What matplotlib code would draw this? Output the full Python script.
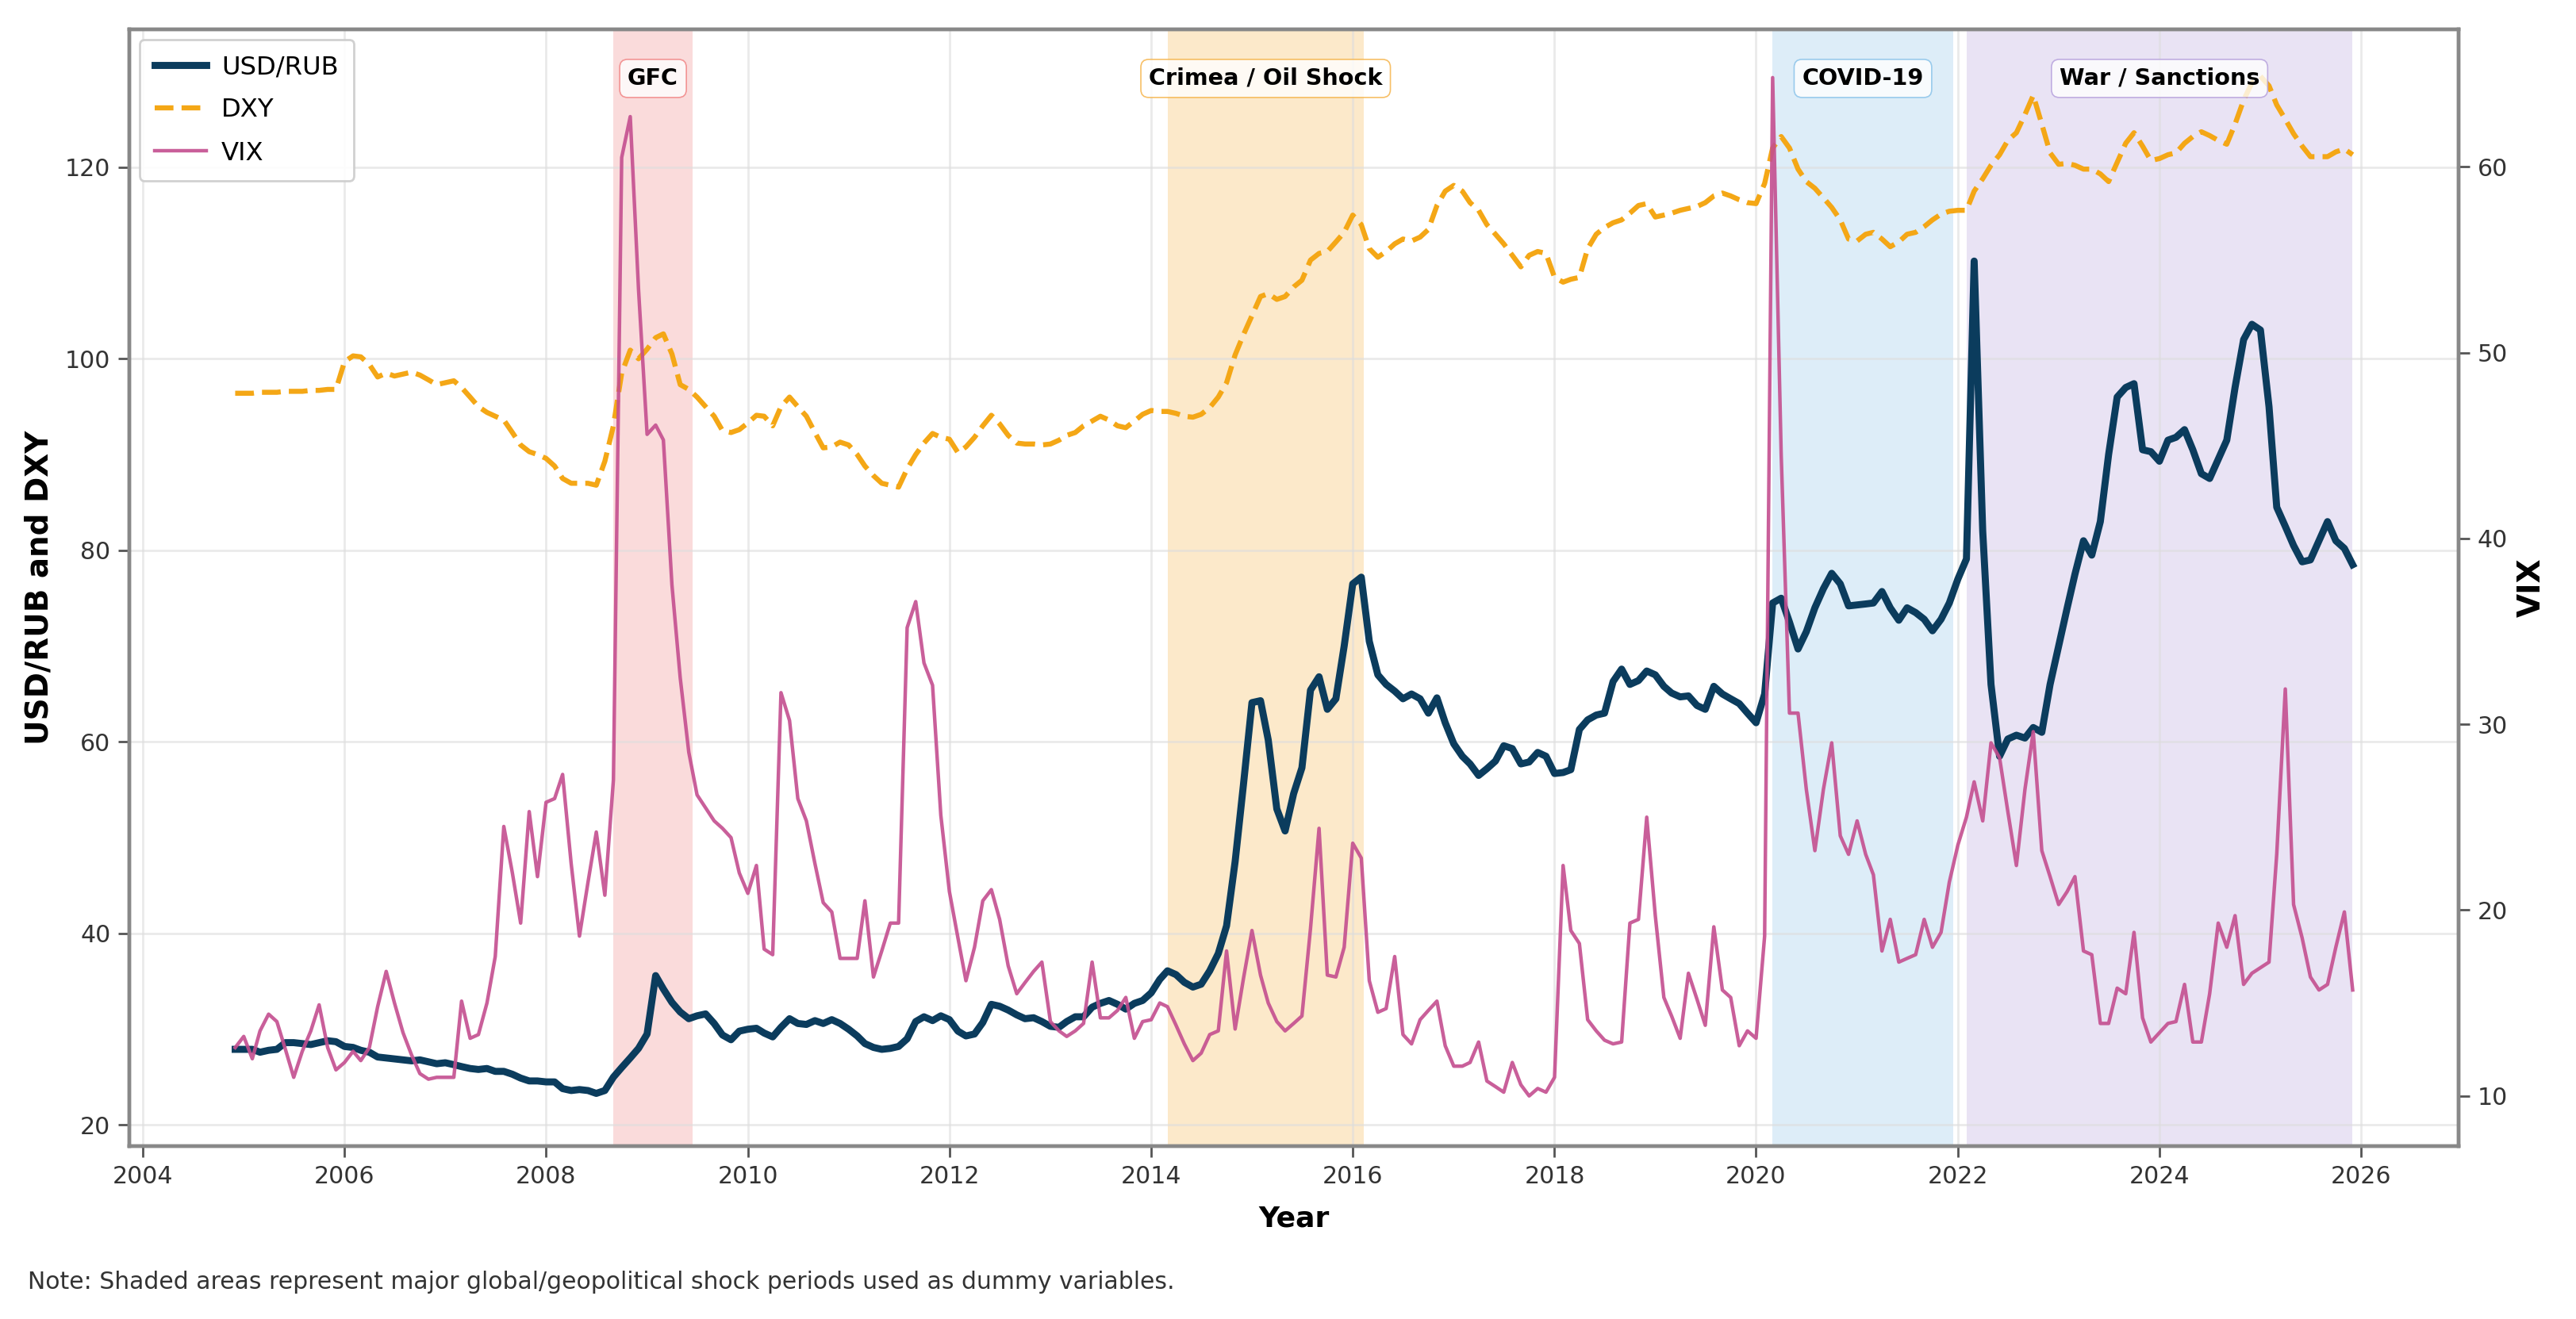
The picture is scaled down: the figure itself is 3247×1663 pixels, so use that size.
import numpy as np
import pandas as pd
import matplotlib
matplotlib.use('Agg')
import matplotlib.pyplot as plt
import matplotlib.dates as mdates

# monthly observations, Dec 2004 .. Dec 2025
dates = pd.date_range('2004-12-01', '2025-12-01', freq='MS')

usd_rub = [27.9,
    27.9, 27.9, 27.6, 27.8, 27.9, 28.6, 28.6, 28.5, 28.4, 28.6, 28.8, 28.7,   # 2005
    28.2, 28.1, 27.8, 27.6, 27.1, 27.0, 26.9, 26.8, 26.7, 26.8, 26.6, 26.4,   # 2006
    26.5, 26.3, 26.1, 25.9, 25.8, 25.9, 25.6, 25.6, 25.3, 24.9, 24.6, 24.6,   # 2007
    24.5, 24.5, 23.8, 23.6, 23.7, 23.6, 23.3, 23.6, 25.0, 26.0, 27.0, 28.0,   # 2008
    29.5, 35.6, 34.2, 32.8, 31.8, 31.1, 31.4, 31.6, 30.6, 29.4, 28.9, 29.8,   # 2009
    30.0, 30.1, 29.6, 29.2, 30.2, 31.1, 30.6, 30.5, 30.9, 30.6, 31.0, 30.6,   # 2010
    30.0, 29.3, 28.5, 28.1, 27.9, 28.0, 28.2, 29.0, 30.8, 31.3, 30.9, 31.4,   # 2011
    31.0, 29.8, 29.3, 29.5, 30.7, 32.6, 32.4, 32.0, 31.5, 31.1, 31.2, 30.8,   # 2012
    30.3, 30.2, 30.8, 31.3, 31.3, 32.3, 32.7, 33.0, 32.6, 32.1, 32.7, 33.0,   # 2013
    33.8, 35.2, 36.1, 35.7, 34.9, 34.4, 34.7, 36.1, 37.9, 40.8, 47.5, 55.5,   # 2014
    64.1, 64.3, 60.2, 53.0, 50.7, 54.6, 57.3, 65.4, 66.8, 63.4, 64.5, 70.0,   # 2015
    76.5, 77.2, 70.5, 67.0, 66.0, 65.3, 64.5, 65.0, 64.5, 63.0, 64.6, 62.0,   # 2016
    59.8, 58.5, 57.7, 56.5, 57.2, 58.0, 59.6, 59.3, 57.7, 57.9, 58.9, 58.5,   # 2017
    56.7, 56.8, 57.1, 61.3, 62.3, 62.8, 63.0, 66.3, 67.6, 66.0, 66.4, 67.4,   # 2018
    67.0, 65.8, 65.1, 64.7, 64.8, 63.8, 63.4, 65.8, 65.0, 64.5, 64.0, 63.0,   # 2019
    62.0, 65.0, 74.5, 75.0, 72.5, 69.7, 71.5, 74.0, 76.0, 77.6, 76.5, 74.2,   # 2020
    74.3, 74.4, 74.5, 75.7, 74.0, 72.7, 74.0, 73.5, 72.8, 71.6, 72.8, 74.5,   # 2021
    77.0, 79.1, 110.2, 82.0, 66.0, 58.5, 60.3, 60.7, 60.4, 61.5, 61.0, 66.0,  # 2022
    70.0, 74.0, 77.5, 81.0, 79.5, 83.0, 90.0, 96.0, 97.0, 97.4, 90.5, 90.3,   # 2023
    89.3, 91.5, 91.8, 92.6, 90.5, 88.0, 87.5, 89.5, 91.5, 97.0, 102.0, 103.6, # 2024
    103.0, 95.0, 84.5, 82.5, 80.5, 78.8, 79.0, 81.0, 83.0, 81.0, 80.2, 78.5,  # 2025
]

dxy = [96.4,
    96.4, 96.4, 96.5, 96.5, 96.5, 96.6, 96.6, 96.6, 96.7, 96.7, 96.8, 96.8,   # 2005
    99.7, 100.3, 100.2, 99.4, 98.1, 98.5, 98.2, 98.4, 98.6, 98.3, 97.8, 97.3, # 2006
    97.5, 97.7, 97.0, 96.0, 95.0, 94.4, 94.0, 93.6, 92.3, 91.0, 90.3, 90.0,   # 2007
    89.6, 88.8, 87.5, 87.0, 87.0, 87.0, 86.8, 89.3, 93.0, 98.5, 100.9, 100.0, # 2008
    101.0, 102.2, 102.6, 100.5, 97.3, 96.8, 96.0, 95.0, 94.0, 92.5, 92.3, 92.6,  # 2009
    93.3, 94.1, 94.0, 93.0, 95.0, 96.0, 95.0, 94.0, 92.3, 90.7, 90.8, 91.3,   # 2010
    91.0, 90.0, 88.8, 87.8, 87.0, 86.8, 86.6, 88.5, 90.0, 91.2, 92.2, 91.8,   # 2011
    91.6, 90.2, 90.8, 91.8, 93.0, 94.1, 93.2, 92.0, 91.2, 91.1, 91.1, 91.0,   # 2012
    91.1, 91.5, 92.0, 92.3, 93.0, 93.5, 94.0, 93.6, 93.0, 92.8, 93.5, 94.2,   # 2013
    94.6, 94.5, 94.5, 94.3, 94.0, 93.9, 94.2, 94.9, 96.0, 97.5, 100.4, 102.5, # 2014
    104.5, 106.5, 106.8, 106.2, 106.5, 107.5, 108.2, 110.3, 111.0, 111.2, 112.2, 113.2,  # 2015
    115.0, 114.0, 111.5, 110.6, 111.2, 112.0, 112.5, 112.3, 112.7, 113.5, 116.0, 117.5,  # 2016
    118.1, 117.5, 116.3, 115.5, 114.0, 113.0, 112.0, 110.8, 109.6, 110.8, 111.2, 111.0,  # 2017
    108.5, 108.0, 108.3, 108.5, 111.5, 113.0, 113.7, 114.2, 114.5, 115.2, 116.0, 116.2,  # 2018
    114.8, 115.0, 115.2, 115.5, 115.7, 115.9, 116.3, 117.0, 117.3, 117.0, 116.6, 116.3,  # 2019
    116.2, 118.3, 122.0, 123.2, 122.0, 119.8, 118.5, 117.8, 116.8, 115.8, 114.5, 112.5,  # 2020
    112.3, 113.0, 113.2, 112.5, 111.7, 112.2, 113.0, 113.2, 113.8, 114.5, 115.1, 115.4,  # 2021
    115.5, 115.5, 117.5, 118.8, 120.2, 121.3, 122.8, 123.6, 125.5, 127.5, 124.5, 121.5,  # 2022
    120.3, 120.4, 120.2, 119.8, 119.8, 119.3, 118.5, 120.5, 122.5, 123.6, 122.2, 120.7,  # 2023
    120.9, 121.3, 121.5, 122.5, 123.2, 123.7, 123.3, 122.8, 122.4, 124.5, 127.0, 128.8,  # 2024
    129.5, 128.5, 126.5, 125.0, 123.5, 122.2, 121.1, 121.1, 121.1, 121.6, 121.9, 121.3,  # 2025
]

vix = [12.6,
    13.2, 12.0, 13.5, 14.4, 14.0, 12.5, 11.0, 12.4, 13.5, 14.9, 12.6, 11.4,   # 2005
    11.8, 12.4, 11.9, 12.6, 14.8, 16.7, 15.0, 13.4, 12.2, 11.2, 10.9, 11.0,   # 2006
    11.0, 11.0, 15.1, 13.1, 13.3, 15.0, 17.5, 24.5, 22.0, 19.3, 25.3, 21.8,   # 2007
    25.8, 26.0, 27.3, 22.5, 18.6, 21.5, 24.2, 20.8, 27.0, 60.5, 62.7, 53.4,   # 2008
    45.6, 46.1, 45.3, 37.5, 32.5, 28.5, 26.2, 25.5, 24.8, 24.4, 23.9, 22.0,   # 2009
    20.9, 22.4, 17.9, 17.6, 31.7, 30.2, 26.0, 24.8, 22.5, 20.4, 19.9, 17.4,   # 2010
    17.4, 17.4, 20.5, 16.4, 17.8, 19.3, 19.3, 35.2, 36.6, 33.3, 32.1, 25.1,   # 2011
    21.0, 18.5, 16.2, 18.0, 20.5, 21.1, 19.5, 17.0, 15.5, 16.1, 16.7, 17.2,   # 2012
    14.0, 13.5, 13.2, 13.5, 13.9, 17.2, 14.2, 14.2, 14.6, 15.3, 13.1, 14.0,   # 2013
    14.1, 15.0, 14.8, 13.8, 12.8, 11.9, 12.3, 13.3, 13.5, 17.8, 13.6, 16.3,   # 2014
    18.9, 16.5, 15.0, 14.0, 13.5, 13.9, 14.3, 19.0, 24.4, 16.5, 16.4, 18.0,   # 2015
    23.6, 22.8, 16.2, 14.5, 14.7, 17.5, 13.3, 12.8, 14.1, 14.6, 15.1, 12.7,   # 2016
    11.6, 11.6, 11.8, 12.9, 10.8, 10.5, 10.2, 11.8, 10.6, 10.0, 10.4, 10.2,   # 2017
    11.0, 22.4, 18.9, 18.2, 14.1, 13.5, 13.0, 12.8, 12.9, 19.3, 19.5, 25.0,   # 2018
    19.7, 15.3, 14.3, 13.1, 16.6, 15.2, 13.8, 19.1, 15.7, 15.3, 12.7, 13.5,   # 2019
    13.1, 18.6, 64.8, 44.5, 30.6, 30.6, 26.5, 23.2, 26.5, 29.0, 24.0, 23.0,   # 2020
    24.8, 23.0, 21.9, 17.8, 19.5, 17.2, 17.4, 17.6, 19.5, 18.0, 18.8, 21.5,   # 2021
    23.5, 25.0, 26.9, 24.8, 29.0, 28.2, 25.3, 22.4, 26.5, 29.6, 23.2, 21.8,   # 2022
    20.3, 21.0, 21.8, 17.8, 17.6, 13.9, 13.9, 15.8, 15.5, 18.8, 14.2, 12.9,   # 2023
    13.4, 13.9, 14.0, 16.0, 12.9, 12.9, 15.5, 19.3, 18.0, 19.7, 16.0, 16.6,   # 2024
    16.9, 17.2, 23.0, 31.9, 20.3, 18.5, 16.4, 15.7, 16.0, 18.0, 19.9, 15.7,   # 2025
]

# shock periods (dummy variables)
shock_names = ['GFC', 'Crimea / Oil Shock', 'COVID-19', 'War / Sanctions']
shock_start = ['2008-09-01', '2014-03-01', '2020-03-01', '2022-02-01']
shock_end = ['2009-06-15', '2016-02-10', '2021-12-15', '2025-12-01']
shock_colors = ['#f08080', '#f5b041', '#85c1e9', '#b39ddb']

c_rub = '#0b3c5d'
c_dxy = '#f4a716'
c_vix = '#c44e8f'

fig = plt.figure(figsize=(16.235, 8.315), dpi=200)
ax1 = fig.add_axes([0.0502, 0.1311, 0.9042, 0.8467])
ax2 = ax1.twinx()

for name, s, e, col in zip(shock_names, shock_start, shock_end, shock_colors):
    s, e = pd.Timestamp(s), pd.Timestamp(e)
    ax1.axvspan(s, e, color=col, alpha=0.28, lw=0, zorder=0)
    mid = s + (e - s) / 2
    ax1.text(mid, 0.956, name, transform=ax1.get_xaxis_transform(),
             ha='center', va='center', fontsize=10.3, fontweight='bold',
             bbox=dict(boxstyle='round,pad=0.35', fc='white', ec=col, alpha=0.8, lw=0.6),
             zorder=5)

l1, = ax1.plot(dates, usd_rub, color=c_rub, lw=3.2, label='USD/RUB', zorder=3)
l2, = ax1.plot(dates, dxy, color=c_dxy, lw=2.3, ls='--', label='DXY', zorder=3)
l3, = ax2.plot(dates, vix, color=c_vix, lw=1.6, label='VIX', alpha=0.9)

ax1.set_ylim(17.8, 134.4)
ax2.set_ylim(7.3, 67.4)
ax1.set_yticks([20, 40, 60, 80, 100, 120])
ax2.set_yticks([10, 20, 30, 40, 50, 60])

ax1.xaxis.set_major_locator(mdates.YearLocator(2))
ax1.xaxis.set_major_formatter(mdates.DateFormatter('%Y'))

ax1.grid(True, color='#dddddd', lw=1.0, alpha=0.6)
ax1.set_axisbelow(True)

for ax in (ax1, ax2):
    ax.tick_params(labelsize=10.8, labelcolor='#333333', color='#555555', width=1.0, length=5)
    for sp in ax.spines.values():
        sp.set_color('#888888')
        sp.set_linewidth(1.6)

ax1.set_xlabel('Year', fontsize=13, fontweight='bold', labelpad=8)
ax1.set_ylabel('USD/RUB and DXY', fontsize=14, fontweight='bold', labelpad=5)
ax2.set_ylabel('VIX', fontsize=14, fontweight='bold', labelpad=4)

leg = ax1.legend(handles=[l1, l2, l3], loc='upper left', fontsize=11.6,
                 labelspacing=0.72, borderpad=0.6, handlelength=2.0,
                 handletextpad=0.6, borderaxespad=0.4,
                 frameon=True, framealpha=0.9, edgecolor='#cccccc')
leg.set_zorder(10)

fig.text(0.0108, 0.028, 'Note: Shaded areas represent major global/geopolitical shock periods used as dummy variables.',
         fontsize=10.75, color='#333333', ha='left', va='center')

fig.savefig('out.png', dpi=200)
